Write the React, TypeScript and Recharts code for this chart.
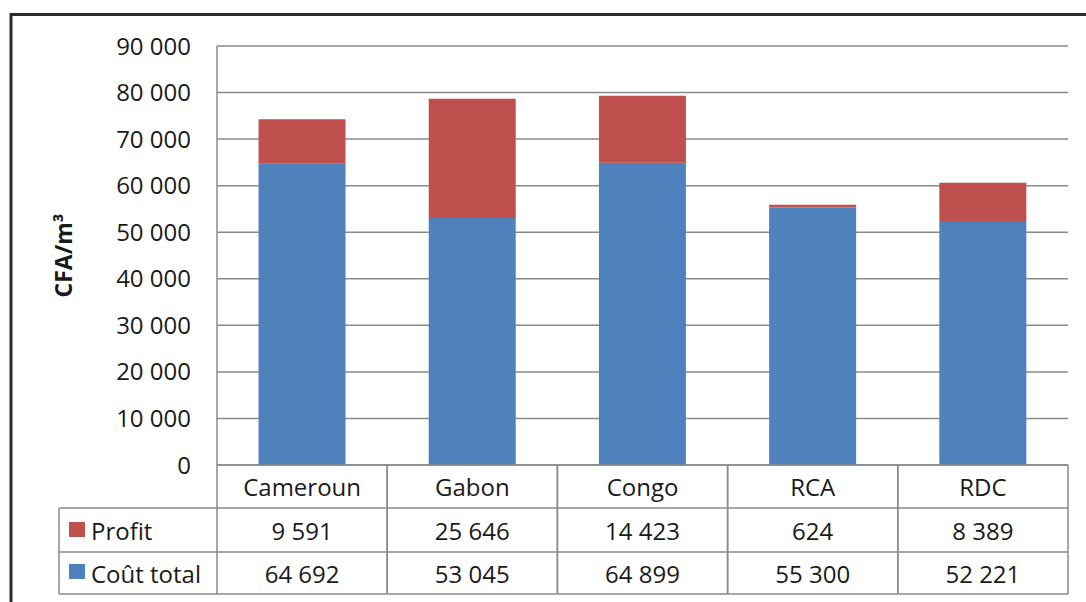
import React from "react";
import { BarChart, Bar, XAxis, YAxis, CartesianGrid } from "recharts";

const categories = ["Cameroun", "Gabon", "Congo", "RCA", "RDC"];
const profit = [9591, 25646, 14423, 624, 8389];
const coutTotal = [64692, 53045, 64899, 55300, 52221];
const yTicks = [0, 10000, 20000, 30000, 40000, 50000, 60000, 70000, 80000, 90000];

const data = categories.map((name, i) => ({
  name,
  profit: profit[i],
  cout: coutTotal[i],
}));

const W = 1086;
const H = 602;
const PLOT_LEFT = 217;
const PLOT_RIGHT = 1068;
const PLOT_TOP = 46;
const PLOT_BOTTOM = 465;
const ROW1 = 508;
const ROW2 = 552;
const ROW3 = 594;
const TABLE_LEFT = 59;
const COL_W = (PLOT_RIGHT - PLOT_LEFT) / categories.length;

const FONT = "'Open Sans', sans-serif";
const FS = 24;
const TEXT = "#1a1a1a";
const GRID = "#8a8a8a";
const BLUE = "#4F81BD";
const RED = "#C0504D";

const fmt = (v: number) => String(v).replace(/\B(?=(\d{3})+(?!\d))/g, " ");

const TableTick = (props: any) => {
  const { x, payload, index } = props;
  const half = COL_W / 2;
  const l = x - half;
  const r = x + half;
  const rows: [number, number, string][] = [
    [PLOT_BOTTOM, ROW1, payload.value],
    [ROW1, ROW2, fmt(profit[index])],
    [ROW2, ROW3, fmt(coutTotal[index])],
  ];
  return (
    <g>
      <line x1={l} x2={l} y1={PLOT_BOTTOM} y2={ROW3} stroke={GRID} strokeWidth={1.5} />
      <line x1={r} x2={r} y1={PLOT_BOTTOM} y2={ROW3} stroke={GRID} strokeWidth={1.5} />
      {[ROW1, ROW2, ROW3].map((yy) => (
        <line key={yy} x1={l} x2={r} y1={yy} y2={yy} stroke={GRID} strokeWidth={1.5} />
      ))}
      {rows.map(([a, b, t], i) => (
        <text
          key={i}
          x={x}
          y={(a + b) / 2}
          textAnchor="middle"
          dominantBaseline="central"
          fontFamily={FONT}
          fontSize={FS}
          fill={TEXT}
        >
          {t}
        </text>
      ))}
    </g>
  );
};

export default function App() {
  return (
    <div style={{ position: "absolute", left: 0, top: 0, width: W, height: H, background: "#fff", overflow: "hidden" }}>
      <BarChart
        width={W}
        height={H}
        data={data}
        margin={{ top: PLOT_TOP, right: W - PLOT_RIGHT, bottom: 0, left: PLOT_LEFT - 150 }}
        barCategoryGap="24.4%"
      >
        <CartesianGrid vertical={false} stroke={GRID} strokeWidth={1.5} />
        <YAxis
          width={150}
          domain={[0, 90000]}
          ticks={yTicks}
          tickFormatter={fmt}
          tickLine={false}
          tickMargin={20}
          axisLine={{ stroke: GRID, strokeWidth: 1.5 }}
          tick={{ fontFamily: FONT, fontSize: FS, fill: TEXT }}
          interval={0}
        />
        <XAxis
          dataKey="name"
          height={H - PLOT_BOTTOM}
          tickLine={false}
          axisLine={{ stroke: GRID, strokeWidth: 1.5 }}
          tick={<TableTick />}
          interval={0}
        />
        <Bar dataKey="cout" stackId="a" fill={BLUE} isAnimationActive={false} />
        <Bar dataKey="profit" stackId="a" fill={RED} isAnimationActive={false} />
      </BarChart>
      <svg
        width={W}
        height={H}
        style={{ position: "absolute", left: 0, top: 0, pointerEvents: "none" }}
      >
        <rect x={11} y={14.5} width={1200} height={1000} fill="none" stroke="#2b2b2b" strokeWidth={3} />
        <text
          transform={`translate(63, ${(PLOT_TOP + PLOT_BOTTOM) / 2}) rotate(-90)`}
          textAnchor="middle"
          dominantBaseline="central"
          fontFamily={FONT}
          fontWeight="bold"
          fontSize={23}
          fill={TEXT}
        >
          CFA/m³
        </text>
        <line x1={TABLE_LEFT} x2={PLOT_LEFT} y1={ROW1} y2={ROW1} stroke={GRID} strokeWidth={1.5} />
        <line x1={TABLE_LEFT} x2={PLOT_LEFT} y1={ROW2} y2={ROW2} stroke={GRID} strokeWidth={1.5} />
        <line x1={TABLE_LEFT} x2={PLOT_LEFT} y1={ROW3} y2={ROW3} stroke={GRID} strokeWidth={1.5} />
        <line x1={TABLE_LEFT} x2={TABLE_LEFT} y1={ROW1} y2={ROW3} stroke={GRID} strokeWidth={1.5} />
        <rect x={69} y={522} width={16} height={15} fill={RED} />
        <rect x={69} y={564} width={16} height={15} fill={BLUE} />
        <text x={91} y={(ROW1 + ROW2) / 2} dominantBaseline="central" fontFamily={FONT} fontSize={FS} fill={TEXT}>
          Profit
        </text>
        <text x={91} y={(ROW2 + ROW3) / 2} dominantBaseline="central" fontFamily={FONT} fontSize={FS} fill={TEXT}>
          Coût total
        </text>
      </svg>
    </div>
  );
}
